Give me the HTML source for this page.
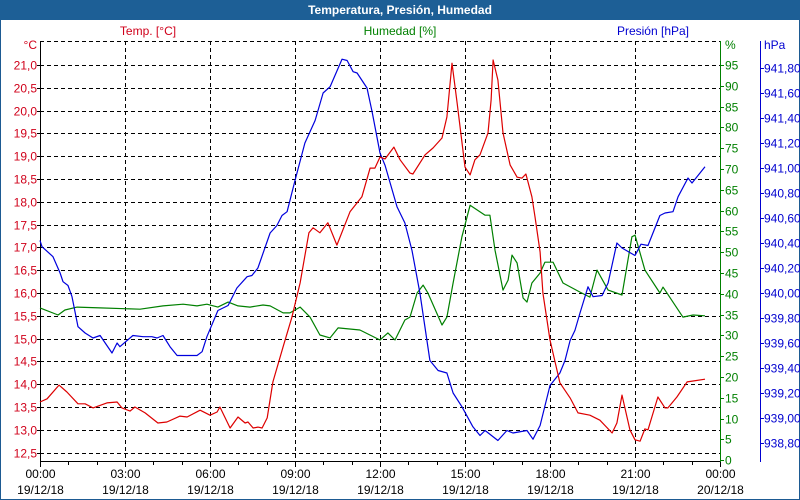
<!DOCTYPE html>
<html><head><meta charset="utf-8"><style>
body{margin:0;width:800px;height:500px;overflow:hidden;background:#fff;font-family:"Liberation Sans",sans-serif}
#frame{position:absolute;left:0;top:0;width:798px;height:498px;border:1px solid #1d5a92}
#title{position:absolute;left:0;top:0;width:800px;height:20px;background:#1d5f96;color:#fff;font-weight:bold;font-size:12px;text-align:center;line-height:20px}
svg{position:absolute;left:0;top:0}
</style></head><body>
<div id="frame"></div>
<div id="title">Temperatura, Presión, Humedad</div>
<svg id="chart" width="800" height="500"></svg>
<script>
const tempHours=[0,0.25,0.67,0.95,1.34,1.59,1.87,2.36,2.72,2.89,3.18,3.35,3.71,4.16,4.48,4.94,5.19,5.65,6.0,6.25,6.35,6.71,6.99,7.24,7.34,7.52,7.69,7.84,8.02,8.22,8.58,8.89,9.18,9.49,9.64,9.88,10.16,10.48,10.94,11.36,11.65,11.82,12.0,12.18,12.49,12.71,13.06,13.16,13.59,13.87,14.19,14.36,14.54,14.72,15.0,15.18,15.35,15.53,15.81,15.92,15.99,16.16,16.34,16.59,16.84,17.01,17.15,17.36,17.47,17.65,17.75,18.0,18.35,18.71,18.99,19.41,19.76,20.19,20.36,20.54,20.82,21.0,21.18,21.35,21.46,21.81,22.06,22.16,22.48,22.84,23.05,23.47];
const tempValues=[13.61,13.68,13.98,13.83,13.57,13.57,13.48,13.59,13.61,13.48,13.41,13.5,13.37,13.15,13.17,13.3,13.28,13.43,13.32,13.39,13.5,13.04,13.28,13.15,13.17,13.04,13.06,13.04,13.26,14.05,14.82,15.47,16.22,17.32,17.43,17.32,17.54,17.05,17.78,18.11,18.74,18.74,18.98,18.94,19.2,18.92,18.63,18.61,19.03,19.18,19.4,19.86,21.04,20.17,18.76,18.59,18.92,19.03,19.51,20.23,21.11,20.67,19.51,18.81,18.54,18.52,18.61,18.11,17.67,16.9,16.0,14.97,14.03,13.7,13.37,13.32,13.21,12.93,13.15,13.76,13.0,12.78,12.75,13.02,13.0,13.72,13.48,13.48,13.72,14.05,14.07,14.11];
const humHours=[0,0.64,0.88,1.31,2.12,3.53,4.34,5.05,5.54,5.89,6.28,6.64,6.99,7.41,7.87,8.12,8.58,8.82,9.18,9.53,9.88,10.24,10.52,11.29,12.0,12.28,12.53,12.88,13.06,13.31,13.52,13.69,14.19,14.36,14.58,14.89,15.18,15.71,15.88,16.06,16.34,16.52,16.66,16.84,17.05,17.19,17.36,17.65,17.82,18.11,18.46,19.06,19.41,19.66,20.05,20.54,20.89,21.0,21.35,21.88,21.99,22.69,23.05,23.47];
const humValues=[36.6,34.9,36.1,36.8,36.6,36.3,37.1,37.5,37.1,37.5,36.8,38.0,37.1,36.8,37.3,37.1,35.4,35.4,36.8,34.4,30.1,29.4,31.8,31.3,28.9,30.6,28.9,33.7,34.4,40.2,42.1,40.2,32.5,34.4,42.6,53.7,61.3,58.9,58.9,50.5,40.9,43.3,49.3,47.4,39.0,38.0,42.6,45.0,47.6,47.6,42.6,40.4,39.2,45.7,40.9,39.7,53.7,54.1,45.7,40.2,41.6,34.4,34.9,34.7];
const presHours=[0,0.07,0.46,0.71,0.81,0.99,1.13,1.34,1.59,1.87,2.12,2.54,2.72,2.82,3.28,3.64,3.95,4.13,4.34,4.59,4.84,5.54,5.72,5.89,6.28,6.64,6.95,7.31,7.48,7.69,8.12,8.36,8.54,8.72,9.0,9.35,9.71,9.99,10.24,10.66,10.84,11.05,11.19,11.54,11.72,12.0,12.18,12.6,12.88,13.13,13.41,13.76,14.05,14.36,14.58,14.89,15.28,15.53,15.71,16.16,16.48,16.69,17.19,17.4,17.65,18.0,18.35,18.53,18.71,18.88,19.06,19.34,19.52,19.84,20.05,20.36,20.54,21.0,21.21,21.46,21.88,22.06,22.34,22.52,22.87,23.01,23.47];
const presValues=[940.42,940.37,940.29,940.16,940.09,940.06,939.97,939.73,939.68,939.64,939.66,939.52,939.6,939.57,939.66,939.65,939.65,939.64,939.66,939.57,939.5,939.5,939.53,939.65,939.86,939.9,940.04,940.13,940.14,940.2,940.48,940.54,940.62,940.65,940.9,941.2,941.38,941.6,941.65,941.87,941.86,941.77,941.76,941.64,941.45,941.12,941.02,940.69,940.56,940.34,940.0,939.46,939.38,939.36,939.2,939.09,938.93,938.86,938.9,938.82,938.9,938.88,938.9,938.83,938.94,939.26,939.36,939.46,939.62,939.7,939.84,940.05,939.97,939.98,940.08,940.4,940.36,940.3,940.39,940.38,940.62,940.64,940.65,940.77,940.92,940.88,941.01];
const tempTicks=["21,0","20,5","20,0","19,5","19,0","18,5","18,0","17,5","17,0","16,5","16,0","15,5","15,0","14,5","14,0","13,5","13,0","12,5"];
const humTicks=["95","90","85","80","75","70","65","60","55","50","45","40","35","30","25","20","15","10","5","0"];
const presTicks=["941,80","941,60","941,40","941,20","941,00","940,80","940,60","940,40","940,20","940,00","939,80","939,60","939,40","939,20","939,00","938,80"];
const timeTicks=["00:00","03:00","06:00","09:00","12:00","15:00","18:00","21:00","00:00"];
const dateTicks=["19/12/18","19/12/18","19/12/18","19/12/18","19/12/18","19/12/18","19/12/18","19/12/18","20/12/18"];

const L=40,R=720,T=41,B=461;
const xS=h=>L+h*(R-L)/24;
const yT=v=>65+(21.0-v)*45.6;
const yH=v=>65+(95-v)*4.16;
const yP=v=>68+(941.8-v)*125;
const svg=document.getElementById('chart');
const NS='http://www.w3.org/2000/svg';
function mk(tag,attrs,txt){const e=document.createElementNS(NS,tag);for(const k in attrs)e.setAttribute(k,attrs[k]);if(txt!==undefined)e.textContent=txt;svg.appendChild(e);return e;}

// grid
tempTicks.forEach((t,i)=>{const v=parseFloat(t.replace(',','.'));const y=Math.round(yT(v))+0.5;
 const g=mk('line',{x1:L,x2:R,y1:y,y2:y,stroke:'#000','stroke-dasharray':'4,3','stroke-width':1});
 
 
 const tx=mk('text',{x:37,y:y+4,'text-anchor':'end','font-size':12,fill:'#d0001a'},t);
 
 
 const tk=mk('line',{x1:L-3,x2:L,y1:y,y2:y,stroke:'#000'});
 
 
});
const topg=mk('line',{x1:L,x2:R,y1:T+0.5,y2:T+0.5,stroke:'#000','stroke-dasharray':'4,3'});


timeTicks.forEach((t,i)=>{const x=Math.round(xS(i*3))+0.5;
 if(i>0&&i<8){const g=mk('line',{x1:x,x2:x,y1:T,y2:B,stroke:'#000','stroke-dasharray':'4,3'});
 
 }
 const a=mk('text',{x:x,y:478,'text-anchor':'middle','font-size':12,fill:'#000'},t);
 
 
 const b=mk('text',{x:x,y:494,'text-anchor':'middle','font-size':12,fill:'#000'},dateTicks[i]);
 
 
});
for(let h=0;h<=24;h++){const x=Math.round(xS(h))+0.5;const tk=mk('line',{x1:x,x2:x,y1:B,y2:h%3===0?B+6:B+4,stroke:'#000'});
 
 }
// axes
const la=mk('line',{x1:L+0.5,x2:L+0.5,y1:T,y2:B+1,stroke:'#000'});


const ba=mk('line',{x1:L,x2:R,y1:B+0.5,y2:B+0.5,stroke:'#000'});


const ga=mk('line',{x1:R+0.5,x2:R+0.5,y1:T,y2:B+1,stroke:'#008000'});


const pa=mk('line',{x1:760.5,x2:760.5,y1:T,y2:B+1,stroke:'#0000d0'});


humTicks.forEach(t=>{const y=Math.round(yH(+t))+0.5;
 const tk=mk('line',{x1:R,x2:R+4,y1:y,y2:y,stroke:'#008000'});
 
 
 const tx=mk('text',{x:725,y:y+4,'font-size':12,fill:'#008000'},t);
 
 });
presTicks.forEach(t=>{const y=Math.round(yP(parseFloat(t.replace(',','.'))))+0.5;
 const tk=mk('line',{x1:760,x2:764,y1:y,y2:y,stroke:'#0000d0'});
 
 
 const tx=mk('text',{x:764,y:y+4,'font-size':12,fill:'#0000d0'},t);
 
 });
// unit labels
[[37,49,'end','#d0001a','°C','temp-unit'],[725,49,'start','#008000','%','humidity-unit'],[764,49,'start','#0000d0','hPa','pressure-unit'],
 [148,35,'middle','#d0001a','Temp. [°C]','temp-legend'],[400,35,'middle','#008000','Humedad [%]','humidity-legend'],[653,35,'middle','#0000d0','Presión [hPa]','pressure-legend']].forEach(a=>{
 const tx=mk('text',{x:a[0],y:a[1],'text-anchor':a[2],'font-size':12,fill:a[3]},a[4]);
 
 });
// series
function line(hs,vs,ys,color,name){const d=hs.map((h,i)=>(i?'L':'M')+xS(h).toFixed(1)+','+ys(vs[i]).toFixed(1)).join('');
 const p=mk('path',{d:d,fill:'none',stroke:color,'stroke-width':1.2,'stroke-linejoin':'round'});
 
 }
line(humHours,humValues,yH,'#008000','humidity-line');
line(presHours,presValues,yP,'#0000dd','pressure-line');
line(tempHours,tempValues,yT,'#dd0000','temperature-line');
</script>
</body></html>
